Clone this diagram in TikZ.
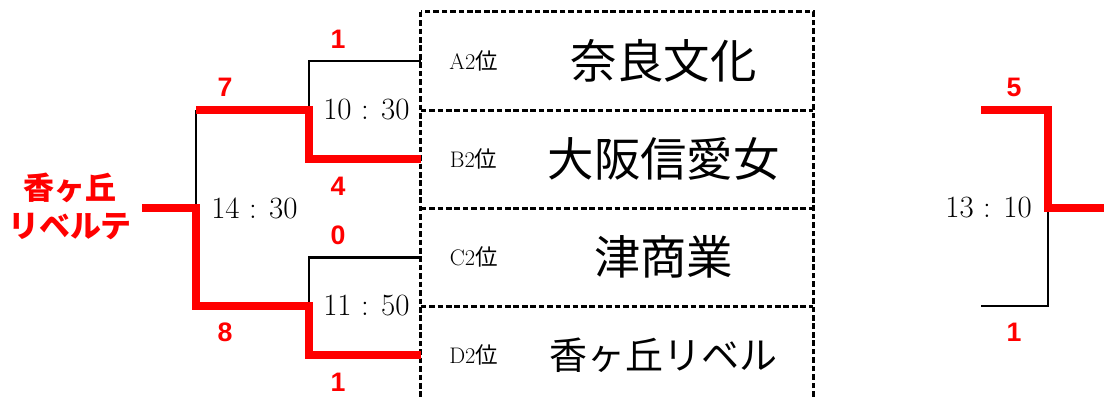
\documentclass[tikz,border=0pt]{standalone}
\usepackage{fontspec}
\newfontfamily\jpfont{Noto Sans CJK JP}
\newfontfamily\numfont{Liberation Sans}
\usetikzlibrary{positioning}

\tikzset{
  seedrow/.style={rectangle, minimum width=9.8cm, minimum height=2.45cm, inner sep=0pt},
  boxline/.style={draw=black, line width=2.2pt, dash pattern=on 4pt off 2pt},
  seedlab/.style={font=\fontsize{16}{16}\selectfont, inner sep=0pt},
  team/.style={font=\jpfont\fontsize{33}{33}\selectfont, inner sep=0pt},
  matchtime/.style={font=\fontsize{22}{22}\selectfont, inner sep=0pt},
  score/.style={text=red, font=\numfont\bfseries\fontsize{19}{19}\selectfont, inner sep=0pt},
  champ/.style={text=red, font=\jpfont\bfseries\fontsize{22}{27}\selectfont, align=center, inner xsep=0.25cm, inner ysep=0pt},
  winline/.style={draw=red, line width=5.7pt},
  loseline/.style={draw=black, line width=2.1pt}
}

\begin{document}
\begin{tikzpicture}[x=0.025cm, y=-0.025cm]
	\clip (0,0) rectangle (1104,399);

	% seeded teams
	\node[seedrow] (rowA) at (617,61) {};
	\node[seedrow, below of=rowA, node distance=2.45cm] (rowB) {};
	\node[seedrow, below of=rowB, node distance=2.45cm] (rowC) {};
	\node[seedrow, below of=rowC, node distance=2.45cm] (rowD) {};
	\path[boxline] (rowA.north west) rectangle (rowD.south east);
	\path[boxline] (rowA.south west) -- (rowA.south east);
	\path[boxline] (rowB.south west) -- (rowB.south east);
	\path[boxline] (rowC.south west) -- (rowC.south east);

	\node[seedlab] (labA) at ([xshift=1.325cm]rowA.west) {A2{\jpfont 位}};
	\node[seedlab] (labB) at ([xshift=1.325cm]rowB.west) {B2{\jpfont 位}};
	\node[seedlab] (labC) at ([xshift=1.325cm]rowC.west) {C2{\jpfont 位}};
	\node[seedlab] (labD) at ([xshift=1.325cm]rowD.west) {D2{\jpfont 位}};

	\node[team] (teamA) at ([xshift=6.075cm]rowA.west) {奈良文化};
	\node[team] (teamB) at ([xshift=6.075cm]rowB.west) {大阪信愛女};
	\node[team] (teamC) at ([xshift=6.075cm]rowC.west) {津商業};
	\node[team, font=\jpfont\fontsize{27}{27}\selectfont] (teamD) at ([xshift=6.075cm]rowD.west) {香ヶ丘リベル};

	% bracket points
	\coordinate (j1) at (309,110);
	\coordinate (j2) at (309,306);
	\coordinate (j3) at (196,208);
	\coordinate (j3top) at (196,110);
	\coordinate (j3bot) at (196,306);
	\coordinate (j4) at (1048,208);
	\coordinate (rtop) at (981,110);
	\coordinate (rbot) at (981,306);
	\coordinate (rout) at (1112,208);

	\node[champ] (winner) at (70,206) {香ヶ丘\\リベルテ};

	% times
	\node[matchtime, anchor=west] (t1) at ([xshift=0.35cm]j1) {10 : 30};
	\node[matchtime, anchor=west] (t2) at ([xshift=0.35cm]j2) {11 : 50};
	\node[matchtime, anchor=west] (t3) at ([xshift=0.375cm]j3) {14 : 30};
	\node[matchtime, anchor=east] (t4) at ([xshift=-0.4cm]j4) {13 : 10};

	% scores
	\node[score] (sA) at (338,39) {1};
	\node[score] (sB) at (338,186) {4};
	\node[score] (sC) at (338,235) {0};
	\node[score] (sD) at (338,382) {1};
	\node[score] (s1) at (225,87) {7};
	\node[score] (s2) at (225,332) {8};
	\node[score] (sR1) at (1014,87) {5};
	\node[score] (sR2) at (1014,332) {1};

	% lines
	\path[loseline] (rowA.west) -| (j1);
	\path[loseline] (rowC.west) -| (j2);
	\path[loseline] (j3top) -- (j3);
	\path[loseline] (j4) |- (rbot);
	\path[winline] (rowB.west) -| (j1) -- (j3top);
	\path[winline] (rowD.west) -| (j2) -- (j3bot) -- (j3) -- (j3 -| winner.east);
	\path[winline] (rtop) -| (j4) -- (rout);
\end{tikzpicture}
\end{document}
